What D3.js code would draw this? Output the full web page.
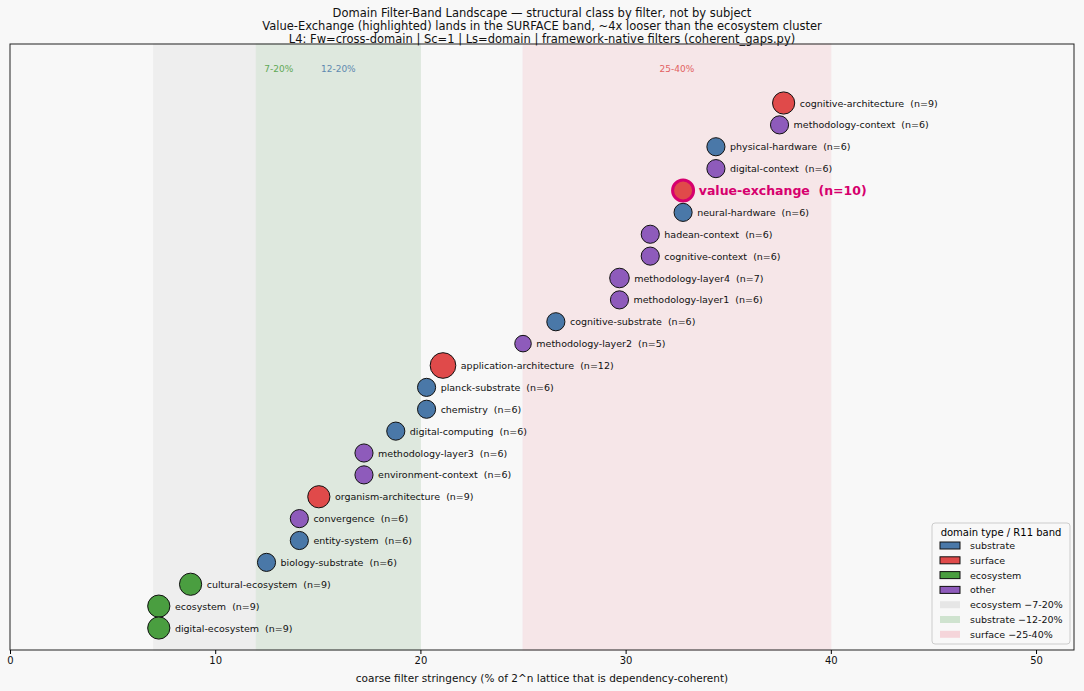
<!DOCTYPE html>
<html><head><meta charset="utf-8">
<script src="https://cdn.jsdelivr.net/npm/d3@7"></script>
<style>body{margin:0;background:#f8f8f8;font-family:"DejaVu Sans",sans-serif}</style>
</head><body><svg id="c" width="1084" height="691"></svg>
<script>
const names=["cognitive-architecture","methodology-context","physical-hardware","digital-context","value-exchange","neural-hardware","hadean-context","cognitive-context","methodology-layer4","methodology-layer1","cognitive-substrate","methodology-layer2","application-architecture","planck-substrate","chemistry","digital-computing","methodology-layer3","environment-context","organism-architecture","convergence","entity-system","biology-substrate","cultural-ecosystem","ecosystem","digital-ecosystem"];
const values=[37.7,37.5,34.4,34.4,32.8,32.8,31.2,31.2,29.7,29.7,26.6,25.0,21.1,20.3,20.3,18.8,17.25,17.25,15.05,14.1,14.1,12.5,8.8,7.25,7.25];
const counts=[9,6,6,6,10,6,6,6,7,6,6,5,12,6,6,6,6,6,9,6,6,6,9,9,9];
const types=["surface","other","substrate","other","surface","substrate","other","other","other","other","substrate","other","surface","substrate","substrate","substrate","other","other","surface","other","substrate","substrate","ecosystem","ecosystem","ecosystem"];
const highlight="value-exchange";
const typeNames=["substrate","surface","ecosystem","other"];
const typeColors=["#4a78a8","#e04a4a","#4a9e40","#8e5bbb"];
const bands=[{name:"ecosystem ~7-20%",lo:7,hi:20,color:"#e6e6e6",op:0.5},{name:"substrate ~12-20%",lo:12,hi:20,color:"#cfe3cf",op:0.5},{name:"surface ~25-40%",lo:25,hi:40,color:"#f5d5da",op:0.5}];
const bandLabels=[{t:"7-20%",x:13.1,c:"#4a9e40"},{t:"12-20%",x:16,c:"#4a78a8"},{t:"25-40%",x:32.5,c:"#e04a4a"}];
const xTicks=[0,10,20,30,40,50];

const svg=d3.select("#c");
const L=10,R=1074,T=44,B=650;
const x=d3.scaleLinear().domain([0,51.85]).range([L,R]);
const y=d3.scalePoint().domain(names).range([103,628]);
const col=d3.scaleOrdinal().domain(typeNames).range(typeColors);
const rad=n=>3.7*Math.sqrt(n);

svg.append("rect").attr("x",L).attr("y",T).attr("width",R-L).attr("height",B-T).attr("fill","#f8f8f8");
svg.selectAll(".band").data(bands).join("rect").attr("x",d=>x(d.lo)).attr("width",d=>x(d.hi)-x(d.lo))
 .attr("y",T).attr("height",B-T).attr("fill",d=>d.color).attr("opacity",d=>d.op)
 .attr("stroke",d=>d.color).attr("stroke-opacity",0.9);
svg.selectAll(".bl").data(bandLabels).join("text").attr("x",d=>x(d.x)).attr("y",72).attr("text-anchor","middle")
 .attr("font-size",9).attr("fill",d=>d.c).attr("opacity",0.85).text(d=>d.t);
svg.append("rect").attr("x",L).attr("y",T).attr("width",R-L).attr("height",B-T).attr("fill","none").attr("stroke","#222");

const rows=names.map((n,i)=>({n,v:values[i],c:counts[i],t:types[i]}));
const g=svg.selectAll(".pt").data(rows).join("g");
g.append("circle").attr("cx",d=>x(d.v)).attr("cy",d=>y(d.n)).attr("r",d=>d.n===highlight?10.5:rad(d.c))
 .attr("fill",d=>col(d.t)).attr("stroke",d=>d.n===highlight?"#d6006e":"#111").attr("stroke-width",d=>d.n===highlight?3:1);
g.append("text").attr("x",d=>x(d.v)+rad(d.c)+(d.n===highlight?4:5)).attr("y",d=>y(d.n)+(d.n===highlight?4.5:3.5))
 .attr("font-size",d=>d.n===highlight?12.5:9.5).attr("font-weight",d=>d.n===highlight?"bold":"normal")
 .attr("fill",d=>d.n===highlight?"#d6006e":"#111").attr("xml:space","preserve")
 .text(d=>`${d.n}  (n=${d.c})`);

const ax=svg.append("g").attr("transform",`translate(0,${B})`).call(d3.axisBottom(x).tickValues(xTicks).tickSize(4));
ax.select(".domain").remove();
ax.selectAll("text").attr("font-size",10).attr("fill","#111").attr("font-family","DejaVu Sans");
svg.append("text").attr("x",(L+R)/2).attr("y",682).attr("text-anchor","middle").attr("font-size",10.5).attr("fill","#111")
 .text("coarse filter stringency (% of 2^n lattice that is dependency-coherent)");

const titles=["Domain Filter-Band Landscape — structural class by filter, not by subject","Value-Exchange (highlighted) lands in the SURFACE band, ~4x looser than the ecosystem cluster","L4: Fw=cross-domain | Sc=1 | Ls=domain | framework-native filters (coherent_gaps.py)"];
svg.selectAll(".tt").data(titles).join("text").attr("x",542).attr("y",(d,i)=>17+i*13).attr("text-anchor","middle")
 .attr("font-size",11.5).attr("fill","#111").text(d=>d);

// legend
const lg=svg.append("g").attr("transform","translate(932,523)");
lg.append("rect").attr("width",138).attr("height",121).attr("rx",3).attr("fill","#f8f8f8").attr("stroke","#ccc");
lg.append("text").attr("x",69).attr("y",13).attr("text-anchor","middle").attr("font-size",10).text("domain type / R11 band");
const items=typeNames.map((t,i)=>({t,c:typeColors[i],s:true})).concat(bands.map(b=>({t:b.name.replace("~","\u2212"),c:b.color,s:false})));
const li=lg.selectAll(".li").data(items).join("g").attr("transform",(d,i)=>`translate(8,${19+i*14.8})`);
li.append("rect").attr("width",20).attr("height",7).attr("fill",d=>d.c).attr("stroke",d=>d.s?"#111":"none");
li.append("text").attr("x",30).attr("y",7).attr("font-size",9.5).attr("fill","#111").text(d=>d.t);
</script></body></html>
